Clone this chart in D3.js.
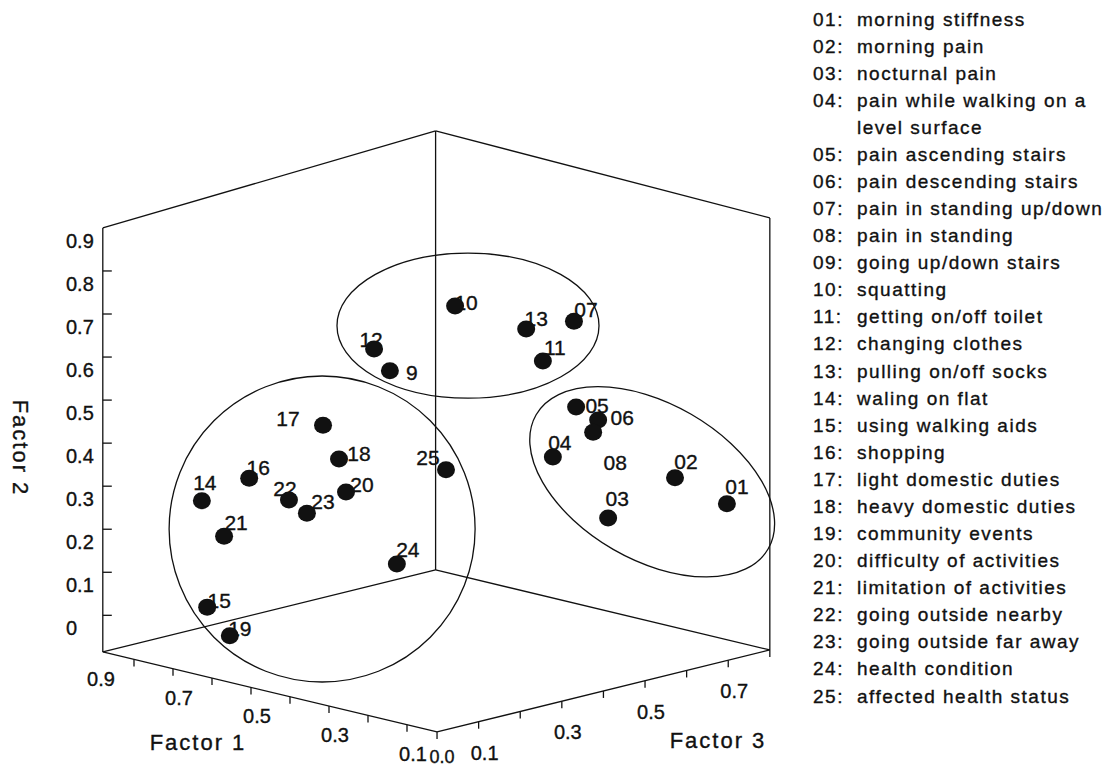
<!DOCTYPE html>
<html>
<head>
<meta charset="utf-8">
<script src="https://cdn.jsdelivr.net/npm/d3@7"></script>
<style>
  html, body { margin: 0; padding: 0; background: #fff; }
  svg { display: block; }
  text { font-family: "Liberation Sans", Arial, sans-serif; fill: #111; stroke: #111; stroke-width: 0.35px; }
</style>
</head>
<body>
<svg id="chart" width="1107" height="768"></svg>
<script>
// ---- data: factor loadings of the 25 questionnaire items ----
const items = ["01","02","03","04","05","06","07","08","09","10","11","12","13",
               "14","15","16","17","18","19","20","21","22","23","24","25"];
const markLabels = ["01","02","03","04","05","06","07","08","9","10","11","12","13",
                    "14","15","16","17","18","19","20","21","22","23","24","25"];
const descriptions = [
  "morning stiffness", "morning pain", "nocturnal pain",
  "pain while walking on a\nlevel surface", "pain ascending stairs",
  "pain descending stairs", "pain in standing up/down", "pain in standing",
  "going up/down stairs", "squatting", "getting on/off toilet",
  "changing clothes", "pulling on/off socks", "waling on flat",
  "using walking aids", "shopping", "light domestic duties",
  "heavy domestic duties", "community events", "difficulty of activities",
  "limitation of activities", "going outside nearby", "going outside far away",
  "health condition", "affected health status"
];
const factor1 = [0.100, 0.200, 0.300, 0.350, 0.300, 0.300, 0.250, 0.300, 0.450, 0.350,
                 0.350, 0.450, 0.300, 0.786, 0.719, 0.718, 0.582, 0.541, 0.661, 0.523,
                 0.729, 0.616, 0.570, 0.446, 0.320];
const factor2 = [0.339, 0.384, 0.287, 0.437, 0.560, 0.517, 0.782, 0.492, 0.690, 0.846,
                 0.663, 0.751, 0.771, 0.349, 0.130, 0.404, 0.544, 0.475, 0.076, 0.403,
                 0.280, 0.376, 0.356, 0.241, 0.487];
const factor3 = [0.769, 0.738, 0.671, 0.585, 0.594, 0.647, 0.542, 0.635, 0.287, 0.350,
                 0.561, 0.249, 0.474, 0.150, 0.100, 0.200, 0.250, 0.250, 0.100, 0.250,
                 0.150, 0.200, 0.200, 0.300, 0.300];

// item groups, each outlined with an ellipse around its centre (factor space)
const groupCentreF1 = [0.350, 0.531, 0.250];
const groupCentreF2 = [0.792, 0.328, 0.366];
const groupCentreF3 = [0.381, 0.200, 0.730];

// axis ticks and tick labels
const factor1Ticks = [0.1, 0.2, 0.3, 0.4, 0.5, 0.6, 0.7, 0.8];
const factor1TickLabels = [0.9, 0.7, 0.5, 0.3, 0.1];
const factor2Ticks = [0.1, 0.2, 0.3, 0.4, 0.5, 0.6, 0.7, 0.8, 0.9];
const factor2TickLabels = [0, 0.1, 0.2, 0.3, 0.4, 0.5, 0.6, 0.7, 0.8, 0.9];
const factor3Ticks = [0, 0.1, 0.2, 0.3, 0.4, 0.5, 0.6, 0.7, 0.8];
const factor3TickLabels = [0.1, 0.3, 0.5, 0.7];

// ---- layout ----
// box extents in factor units
const F1_EXT = [0.023, 0.88];
const F2_EXT = [0.015, 1.0];
const F3_EXT = [0.0, 0.8];

// oblique projection of (factor1, factor2, factor3) onto the page
const ORIGIN = [446, 734.1];
const f1x = d3.scaleLinear().domain([0, 1]).range([0, -390]);
const f1y = d3.scaleLinear().domain([0, 1]).range([0, -93.4]);
const f3x = d3.scaleLinear().domain([0, 1]).range([0, 416]);
const f3y = d3.scaleLinear().domain([0, 1]).range([0, -102.5]);
const f2frac = d3.scaleLinear().domain(F2_EXT).range([0, 1]);
// vertical extent grows slightly towards the back of the box
const heightAt = (f1, f3) => 416.8 + 8.17 * f1 + 18.75 * f3;

function project(f1, f2, f3) {
  const x = ORIGIN[0] + f1x(f1) + f3x(f3);
  const y = ORIGIN[1] + f1y(f1) + f3y(f3) - f2frac(f2) * heightAt(f1, f3);
  return [x, y];
}

// label placement (dx, dy from each dot)
const labelDx = [10, 11, 9, 7, 21, 24, 12, 22, 22, 11, 12, -3, 10, 3, 12, 9, -35, 20, 10, 16, 12, -4, 16, 11, -18];
const labelDy = [-17, -16, -20, -14, -2, -2, -12, 30, 2, -3, -13, -9, -10, -18, -7, -11, -7, -6, -7, -7, -14, -12, -12, -14, -12];

// ellipse shapes for the three groups: rx, ry, rotation (deg)
const groupShape = [[131, 72.5, 0], [153, 153, 0], [134, 78, 30]];

const svg = d3.select("#chart");
const line = d3.line();
const stroke = "#111";

// ---- box ----
const [a0, a1] = F1_EXT, [b0, b1] = F2_EXT, [c0, c1] = F3_EXT;
const edges = [
  [[a1, b0, c0], [a1, b1, c0]],   // left vertical
  [[a1, b0, c1], [a1, b1, c1]],   // back vertical
  [[a0, b0, c1], [a0, b1, c1]],   // right vertical
  [[a1, b1, c0], [a1, b1, c1]],   // top left
  [[a1, b1, c1], [a0, b1, c1]],   // top right
  [[a0, b0, c0], [a1, b0, c0]],   // factor 1 axis
  [[a0, b0, c0], [a0, b0, c1]],   // factor 3 axis
  [[a1, b0, c0], [a1, b0, c1]],   // floor, back left
  [[a1, b0, c1], [a0, b0, c1]]    // floor, back right
];
svg.append("g").selectAll("path").data(edges).join("path")
  .attr("d", e => line(e.map(p => project(p[0], p[1], p[2]))))
  .attr("fill", "none").attr("stroke", stroke).attr("stroke-width", 1.3);

// ---- ticks ----
const tickG = svg.append("g").attr("stroke", stroke).attr("stroke-width", 1.3);
tickG.selectAll(".t2").data(factor2Ticks).join("line")
  .each(function (v) {
    const [x, y] = project(a1, v, c0);
    d3.select(this).attr("x1", x).attr("y1", y).attr("x2", x + 9).attr("y2", y);
  });
tickG.selectAll(".t1").data(factor1Ticks).join("line")
  .each(function (v) {
    const [x, y] = project(v, b0, c0);
    d3.select(this).attr("x1", x).attr("y1", y).attr("x2", x).attr("y2", y + 7);
  });
tickG.selectAll(".t3").data(factor3Ticks).join("line")
  .each(function (v) {
    const [x, y] = project(a0, b0, Math.min(v, c1));
    d3.select(this).attr("x1", x).attr("y1", y).attr("x2", x).attr("y2", y + 7);
  });

// ---- tick labels ----
const fmt = v => (v === 0 ? "0" : d3.format(".1f")(v));
const tl = svg.append("g").attr("font-size", 20);
tl.selectAll(".l2").data(factor2TickLabels).join("text")
  .attr("x", 66)
  .attr("y", v => project(a1, v, c0)[1] - 30)
  .attr("dominant-baseline", "central")
  .text(fmt);
tl.selectAll(".l1").data(factor1TickLabels).join("text")
  .attr("x", v => project(v, b0, c0)[0] + 6)
  .attr("y", v => project(v, b0, c0)[1] + 29)
  .attr("text-anchor", "middle").attr("dominant-baseline", "central")
  .text(v => d3.format(".1f")(v));
tl.selectAll(".l3").data(factor3TickLabels).join("text")
  .attr("x", v => project(a0, b0, v)[0] + 6)
  .attr("y", v => project(a0, b0, v)[1] + 31)
  .attr("text-anchor", "middle").attr("dominant-baseline", "central")
  .text(v => d3.format(".1f")(v));
{
  const [x, y] = project(a0, b0, c0);
  tl.append("text").attr("x", x + 5).attr("y", y + 25)
    .attr("font-size", 18)
    .attr("text-anchor", "middle").attr("dominant-baseline", "central")
    .text("0.0");
}

// ---- axis titles ----
const titles = svg.append("g").attr("font-size", 22).attr("letter-spacing", 2)
  .style("white-space", "pre");
titles.append("text").attr("x", 198).attr("y", 742)
  .attr("text-anchor", "middle").attr("dominant-baseline", "central").text("Factor  1");
titles.append("text").attr("x", 718).attr("y", 740)
  .attr("text-anchor", "middle").attr("dominant-baseline", "central").text("Factor  3");
titles.append("text").attr("transform", "translate(20,448) rotate(90)")
  .attr("text-anchor", "middle").attr("dominant-baseline", "central").text("Factor  2");

// ---- group outlines ----
svg.append("g").selectAll("ellipse").data(groupShape).join("ellipse")
  .each(function (s, i) {
    const [cx, cy] = project(groupCentreF1[i], groupCentreF2[i], groupCentreF3[i]);
    d3.select(this)
      .attr("transform", `translate(${cx},${cy}) rotate(${s[2]})`)
      .attr("rx", s[0]).attr("ry", s[1]);
  })
  .attr("fill", "none").attr("stroke", stroke).attr("stroke-width", 1.3);

// ---- items ----
const idx = d3.range(items.length);
const pos = idx.map(i => project(factor1[i], factor2[i], factor3[i]));

svg.append("g").attr("font-size", 21).selectAll("text").data(idx).join("text")
  .attr("x", i => pos[i][0] + labelDx[i])
  .attr("y", i => pos[i][1] + labelDy[i])
  .attr("text-anchor", "middle").attr("dominant-baseline", "central")
  .text(i => markLabels[i]);

svg.append("g").selectAll("ellipse").data(idx).join("ellipse")
  .attr("cx", i => pos[i][0]).attr("cy", i => pos[i][1])
  .attr("rx", 9).attr("ry", 8.5).attr("fill", "#111");

// ---- legend ----
const legendLines = [];
items.forEach((id, i) => {
  descriptions[i].split("\n").forEach((t, k) => legendLines.push({ id: k === 0 ? id + ":" : "", text: t }));
});
const ly = d3.scaleLinear().domain([0, legendLines.length - 1]).range([19, 696]);
const lg = svg.append("g").attr("font-size", 19).attr("letter-spacing", 1.5);
lg.selectAll(".ln").data(legendLines).join("text")
  .attr("x", 813).attr("y", (d, i) => ly(i)).attr("dominant-baseline", "central")
  .text(d => d.id);
lg.selectAll(".lt").data(legendLines).join("text")
  .attr("x", 857).attr("y", (d, i) => ly(i)).attr("dominant-baseline", "central")
  .text(d => d.text);
</script>
</body>
</html>
